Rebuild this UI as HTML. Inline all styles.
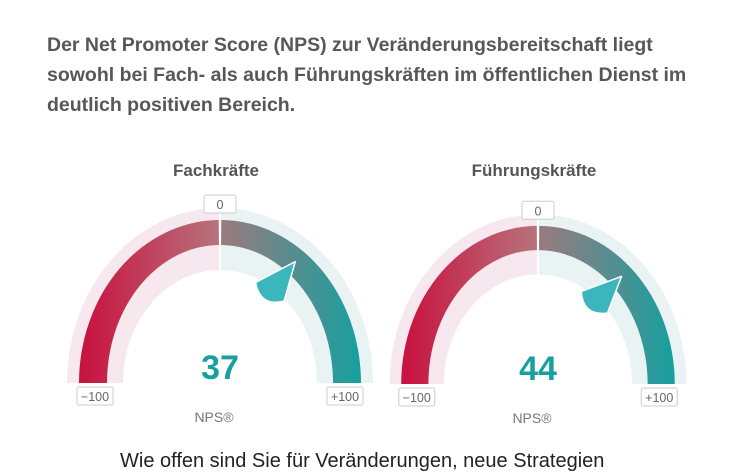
<!DOCTYPE html>
<html><head><meta charset="utf-8"><style>
body{margin:0;background:#fff;width:750px;height:460px;overflow:hidden;font-family:"Liberation Sans",sans-serif;}
.title{position:absolute;left:47px;top:30px;width:662px;font-size:19.5px;font-weight:bold;color:#575757;line-height:30px;}
.bottom{position:absolute;left:120px;top:450px;font-size:20px;color:#222;}
</style></head><body>
<div class="title">Der Net Promoter Score (NPS) zur Veränderungsbereitschaft liegt sowohl bei Fach- als auch Führungskräften im öffentlichen Dienst im deutlich positiven Bereich.</div>
<svg id="chart" width="750" height="460" style="position:absolute;left:0;top:0">
<defs>
<linearGradient id="gl" x1="0" x2="1" y1="0" y2="0"><stop offset="0" stop-color="#c8103e"/><stop offset="1" stop-color="#b7737c"/></linearGradient>
<linearGradient id="gr" x1="0" x2="1" y1="0" y2="0"><stop offset="0" stop-color="#9a7a7e"/><stop offset="1" stop-color="#16a0a0"/></linearGradient>
</defs>
</svg>
<div class="bottom">Wie offen sind Sie für Veränderungen, neue Strategien</div>
<script>
const groups=["Fachkräfte","Führungskräfte"];
const npsValues=[37,44];
const tickLabels=["−100","0","+100"];
const geo=[{cx:220,cy:383,s:1},{cx:538,cy:384,s:0.97}];
const svg=document.getElementById('chart');
const NS='http://www.w3.org/2000/svg';
function mk(t,a){const e=document.createElementNS(NS,t);for(const k in a)e.setAttribute(k,a[k]);svg.appendChild(e);return e;}
function pt(g,rx,ry,v){const th=v/100*Math.PI/2;return [g.cx+rx*Math.sin(th),g.cy-ry*Math.cos(th)];}
function band(g,rxo,ryo,rxi,ryi,v0,v1){
 const a=pt(g,rxo,ryo,v0),b=pt(g,rxo,ryo,v1),c=pt(g,rxi,ryi,v1),d=pt(g,rxi,ryi,v0);
 return `M${a}A${rxo} ${ryo} 0 0 1 ${b}L${c}A${rxi} ${ryi} 0 0 0 ${d}Z`;}
groups.forEach((name,i)=>{
 const g=geo[i],s=g.s;
 const R={lo:[153*s,175*s],co:[141*s,163*s],ci:[113*s,138*s],li:[97*s,113*s]};
 let e;
 e=mk('path',{d:band(g,R.lo[0],R.lo[1],R.li[0],R.li[1],-100,0),fill:'#f6e8ee'});
 
 e=mk('path',{d:band(g,R.lo[0],R.lo[1],R.li[0],R.li[1],0,100),fill:'#e9f3f3'});
 
 e=mk('path',{d:band(g,R.co[0],R.co[1],R.ci[0],R.ci[1],-100,-0.6),fill:'url(#gl)'});
 
 e=mk('path',{d:band(g,R.co[0],R.co[1],R.ci[0],R.ci[1],0.6,100),fill:'url(#gr)'});
 
 e=mk('line',{x1:g.cx,y1:g.cy-R.lo[1],x2:g.cx,y2:g.cy-R.li[1],stroke:'#fff','stroke-width':2});
 
 const v=npsValues[i];
 const tip=pt(g,128*s,150*s,v+3);
 const th=(v)/100*Math.PI/2;
 const base=pt(g,93*s,108*s,v-1);
 const px=Math.cos(th)*17,py=Math.sin(th)*17;
 const b1=[base[0]-px,base[1]-py],b2=[base[0]+px,base[1]+py];
 const ctrl=[base[0]-Math.sin(th)*18,base[1]+Math.cos(th)*18];
 e=mk('path',{d:`M${tip}L${b1}Q${ctrl} ${b2}Z`,fill:'#3cb6bd',stroke:'#fff','stroke-width':1.5,'stroke-linejoin':'round'});
 
 e=mk('text',{x:g.cx-4,y:176,'text-anchor':'middle','font-size':17,'font-weight':'bold',fill:'#555'});
 e.textContent=name;
 e=mk('text',{x:g.cx,y:g.cy-4,'text-anchor':'middle','font-size':34,'font-weight':'bold',fill:'#1a9fa0'});
 e.textContent=v;
 e=mk('text',{x:g.cx-6,y:g.cy+39,'text-anchor':'middle','font-size':14,fill:'#777'});
 e.textContent='NPS®';
 const tv=[-100,0,100];
 tv.forEach((t,j)=>{
  let x,y,w=j==1?32:36;
  if(j==1){x=g.cx;y=g.cy-R.lo[1]-4;} else {x=g.cx+(t<0?-1:1)*(125*s);y=g.cy+13;}
  let r=mk('rect',{x:x-w/2,y:y-9,width:w,height:18,rx:2,fill:'#fff',stroke:'#ccc'});
  
  let tt=mk('text',{x:x,y:y+5,'text-anchor':'middle','font-size':12.5,fill:'#666'});
  tt.textContent=tickLabels[j];
  
 });
});
</script>
</body></html>
